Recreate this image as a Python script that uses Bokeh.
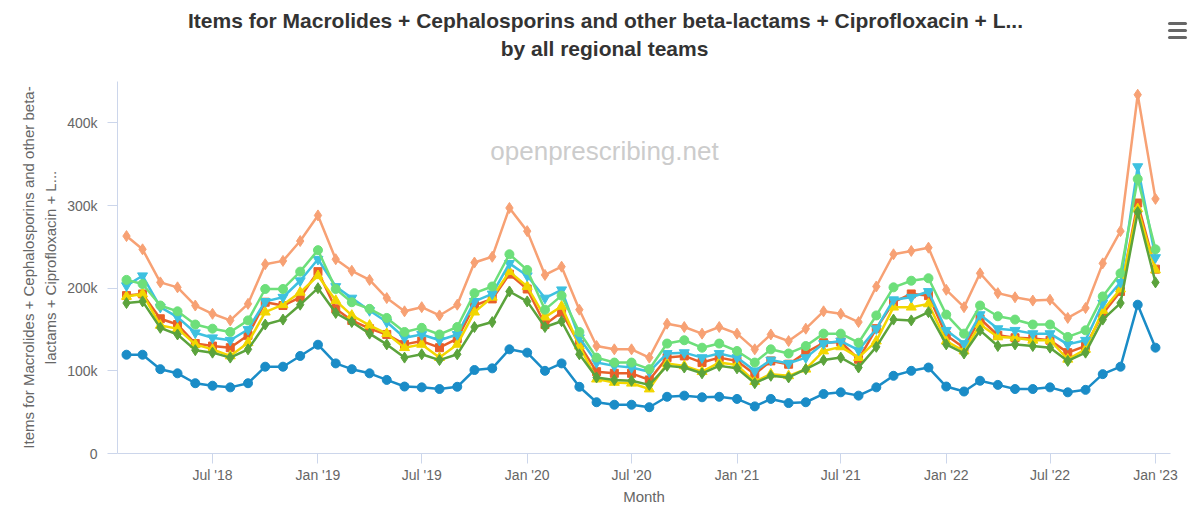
import pandas as pd
from bokeh.plotting import figure
from bokeh.layouts import column
from bokeh.models import FixedTicker, Range1d, Label
from bokeh.core.properties import value
from bokeh.embed import file_html
from bokeh.resources import INLINE

# ---------------- data ----------------
months = pd.date_range("2018-02-01", "2023-01-01", freq="MS")

# values in thousands of items
blue = [119.5, 119.5, 102, 97, 85, 82, 80, 85, 105, 105, 118, 131.6, 109, 102, 97, 89, 81, 80,
        78, 80.7, 101, 103, 126, 122, 100, 109, 80.7, 62, 59, 59, 56, 68.6, 70, 68, 68.6,
        66, 57, 66, 61, 62, 72, 74, 70, 80, 94, 100, 104, 81, 75, 88, 83, 78,
        78, 80, 74, 77, 96, 105, 180, 128]
orange = [263, 247, 207, 201, 179, 169, 161, 181, 229, 233, 257, 288, 235, 221, 210, 188, 172, 177,
          167, 180, 231, 238, 297, 269, 216, 226, 174, 130, 126, 126, 116, 157, 153, 145, 153,
          145, 126, 144, 136, 151, 172, 169, 159, 202, 241, 245, 249, 198, 177, 218, 194, 189,
          185, 186, 164, 176, 230, 269, 434, 308]
red = [191, 193, 163, 156, 133, 130, 128, 143, 183, 179, 189, 220, 175, 161, 151, 144, 132, 136,
       128, 139, 179, 187, 217, 199, 156, 171, 132, 99, 97, 97, 89, 116, 118, 110, 116,
       112, 96, 112, 108, 122, 134, 135, 114, 151, 183, 193, 191, 143, 128, 163, 143, 140,
       139, 137, 122, 130, 169, 196, 303, 223]
yellow = [190, 193, 155, 151, 132, 126, 118, 134, 171, 180, 195, 215, 185, 167, 155, 145, 128, 132,
          116, 132, 171, 189, 220, 202, 165, 178, 130, 90, 86, 85, 78, 109, 106, 99, 110,
          107, 87, 96, 94, 102, 124, 129, 116, 136, 177, 177, 181, 136, 124, 156, 141, 140,
          137, 137, 114, 126, 173, 199, 296, 222]
cyan = [203, 215, 177, 165, 146, 140, 137, 150, 184, 189, 209, 235, 202, 188, 173, 159, 140, 144,
        137, 144, 184, 193, 230, 215, 188, 198, 140, 110, 106, 104, 99, 121, 122, 116, 121,
        116, 100, 113, 109, 116, 133, 136, 125, 151, 186, 189, 196, 149, 133, 168, 151, 149,
        145, 145, 132, 137, 182, 207, 347, 237]
green = [210, 205, 179, 172, 156, 151, 147, 161, 199, 199, 220, 246, 199, 183, 175, 164, 147, 152,
         144, 153, 194, 202, 241, 222, 174, 191, 147, 116, 110, 110, 102, 133, 137, 128, 133,
         124, 110, 126, 121, 130, 145, 145, 134, 167, 201, 209, 212, 168, 145, 179, 166, 162,
         156, 156, 141, 149, 190, 218, 332, 247]
darkgreen = [182, 184, 152, 144, 125, 122, 116, 126, 156, 162, 180, 200, 170, 159, 145, 132, 116, 120,
             113, 120, 153, 159, 196, 184, 153, 160, 120, 92, 89, 88, 83, 106, 104, 97, 106,
             103, 85, 94, 92, 102, 113, 116, 104, 129, 162, 161, 171, 132, 121, 149, 130, 132,
             130, 128, 112, 122, 162, 182, 292, 207]

x_tick_dates = ["2018-07-01", "2019-01-01", "2019-07-01", "2020-01-01", "2020-07-01",
                "2021-01-01", "2021-07-01", "2022-01-01", "2022-07-01", "2023-01-01"]
x_tick_labels = ["Jul '18", "Jan '19", "Jul '19", "Jan '20", "Jul '20",
                 "Jan '21", "Jul '21", "Jan '22", "Jul '22", "Jan '23"]
y_tick_values = [0, 100000, 200000, 300000, 400000]
y_tick_labels = ["0", "100k", "200k", "300k", "400k"]

title_line1 = "Items for Macrolides + Cephalosporins and other beta-lactams + Ciprofloxacin + L..."
title_line2 = "by all regional teams"
y_label = "Items for Macrolides + Cephalosporins and other beta-\nlactams + Ciprofloxacin + L..."
x_label = "Month"

# ---------------- layout ----------------
W = 1195
TH = 81                      # height of the title strip (page px)
MH = 514 - TH                # height of the main figure
FL, FR, FT, FB = 117, 1170, 0, 453 - TH   # frame edges inside the main figure

DAY = 86400000.0
ms = lambda d: pd.Timestamp(d).value / 1e6
x0 = ms("2018-02-01") - 15.7 * DAY
x1 = ms("2023-01-01") + 26.2 * DAY
y0, y1 = 0, 450000

# ---------------- title strip ----------------
tp = figure(width=W, height=TH, output_backend="svg", toolbar_location=None,
            x_range=Range1d(0, W), y_range=Range1d(TH, 0),
            x_axis_location=None, y_axis_location=None, min_border=0)
tp.frame_align = False
tp.outline_line_color = None
tp.grid.visible = False
tp.text(x=[605, 604], y=[20, 48], text=[title_line1, title_line2],
        text_align="center", text_baseline="middle",
        text_font=value("Liberation Sans"), text_font_size="21px",
        text_font_style="bold", text_color="#333333")
for yy in (23, 30, 37):
    tp.line(x=[1169, 1185], y=[yy, yy], line_color="#666666", line_width=3,
            line_cap="round")

# ---------------- main chart ----------------
p = figure(width=W, height=MH, output_backend="svg", toolbar_location=None,
           x_range=Range1d(x0, x1), y_range=Range1d(y0, y1), title=None,
           min_border_left=FL, min_border_right=W - FR, min_border_top=FT,
           min_border_bottom=MH - FB)
p.outline_line_color = None
p.xgrid.visible = False
p.ygrid.visible = False

axis_col = "#ccd6eb"
lab_col = "#666666"

xa = p.xaxis[0]
xa.ticker = FixedTicker(ticks=[ms(d) for d in x_tick_dates])
xa.major_label_overrides = {ms(d): l for d, l in zip(x_tick_dates, x_tick_labels)}
xa.axis_line_color = axis_col
xa.major_tick_line_color = axis_col
xa.major_tick_out = 10
xa.major_tick_in = 0
xa.minor_tick_line_color = None
xa.major_label_text_font = "Liberation Sans"
xa.major_label_text_font_size = "14px"
xa.major_label_text_color = lab_col
xa.major_label_standoff = 3
xa.axis_label = x_label
xa.axis_label_text_font = "Liberation Sans"
xa.axis_label_text_font_size = "15px"
xa.axis_label_text_font_style = "normal"
xa.axis_label_text_color = lab_col
xa.axis_label_standoff = 2

ya = p.yaxis[0]
ya.ticker = FixedTicker(ticks=y_tick_values)
ya.major_label_overrides = {v: l for v, l in zip(y_tick_values, y_tick_labels)}
ya.axis_line_color = axis_col
ya.major_tick_line_color = axis_col
ya.major_tick_out = 10
ya.major_tick_in = 0
ya.minor_tick_line_color = None
ya.major_label_text_font = "Liberation Sans"
ya.major_label_text_font_size = "14px"
ya.major_label_text_color = lab_col
ya.major_label_standoff = 10
ya.axis_label = y_label
ya.axis_label_text_font = "Liberation Sans"
ya.axis_label_text_font_size = "15px"
ya.axis_label_text_font_style = "normal"
ya.axis_label_text_color = lab_col
ya.axis_label_text_line_height = 1.33
ya.axis_label_standoff = 5

# watermark (page px 604,150 -> data)
wx = x0 + (604 - FL) / (FR - FL) * (x1 - x0)
wy = y0 + (FB - (150 - TH)) / (FB - FT) * (y1 - y0)
p.add_layout(Label(x=wx, y=wy, text="openprescribing.net",
                   text_align="center", text_baseline="middle",
                   text_font="Liberation Sans", text_font_size="26px",
                   text_color="#cccccc"))

series = [
    (blue, "#1a8cc7", "circle", 9),
    (orange, "#f7a174", "diamond", 11),
    (red, "#e8602a", "square", 8),
    (yellow, "#f2d600", "triangle", 10),
    (cyan, "#3ec1e0", "inverted_triangle", 10),
    (green, "#6ddf7a", "circle", 9),
    (darkgreen, "#5ba33c", "diamond", 11),
]
for vals, col, mk, sz in series:
    yv = [v * 1000 for v in vals]
    p.line(months, yv, line_color=col, line_width=2.5)
    p.scatter(months, yv, marker=mk, size=sz, fill_color=col, line_color=col)

layout = column(tp, p, spacing=0)
open("out.html", "w").write(file_html(layout, INLINE))
